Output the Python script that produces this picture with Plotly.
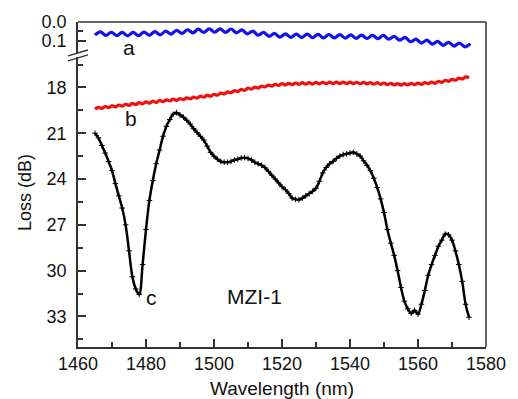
import numpy as np
import plotly.graph_objects as go

# ---------------- data ----------------
# curve a (upper, blue): wavelength grid and loss (dB)
wl_a = np.round(1465 + 1.6 * np.arange(70), 1)
loss_a = [0.069, 0.052, 0.071, 0.054, 0.072, 0.055, 0.073, 0.055, 0.072, 0.053,
          0.070, 0.051, 0.068, 0.048, 0.064, 0.044, 0.060, 0.041, 0.057, 0.038,
          0.055, 0.036, 0.054, 0.036, 0.055, 0.037, 0.057, 0.042, 0.063, 0.048,
          0.070, 0.055, 0.076, 0.060, 0.080, 0.063, 0.081, 0.064, 0.082, 0.064,
          0.083, 0.065, 0.084, 0.066, 0.084, 0.067, 0.085, 0.068, 0.086, 0.069,
          0.087, 0.070, 0.088, 0.071, 0.091, 0.076, 0.096, 0.081, 0.104, 0.090,
          0.111, 0.096, 0.117, 0.102, 0.123, 0.107, 0.127, 0.111, 0.131, 0.114]

# curve b (red)
wl_b = np.arange(1465, 1576)
loss_b = [19.42, 19.30, 19.37, 19.25, 19.32, 19.20, 19.27, 19.15, 19.22, 19.10,
          19.17, 19.05, 19.12, 19.00, 19.07, 18.95, 19.03, 18.90, 18.98, 18.85,
          18.93, 18.81, 18.89, 18.77, 18.85, 18.73, 18.80, 18.68, 18.75, 18.63,
          18.70, 18.57, 18.64, 18.51, 18.58, 18.45, 18.51, 18.37, 18.43, 18.29,
          18.35, 18.21, 18.27, 18.13, 18.19, 18.05, 18.11, 17.98, 18.04, 17.91,
          17.97, 17.85, 17.92, 17.80, 17.87, 17.75, 17.84, 17.73, 17.82, 17.71,
          17.80, 17.69, 17.79, 17.68, 17.78, 17.67, 17.77, 17.66, 17.76, 17.65,
          17.75, 17.65, 17.75, 17.65, 17.75, 17.65, 17.75, 17.66, 17.76, 17.67,
          17.77, 17.68, 17.79, 17.69, 17.80, 17.71, 17.82, 17.73, 17.84, 17.75,
          17.85, 17.75, 17.84, 17.73, 17.82, 17.71, 17.80, 17.68, 17.76, 17.65,
          17.73, 17.60, 17.67, 17.53, 17.60, 17.47, 17.53, 17.39, 17.45, 17.31,
          17.37]

# curve c (black)
wl_c = np.arange(1465, 1576)
loss_c = [21.0, 21.3, 21.8, 22.3, 22.85, 23.45, 24.3, 25.1, 25.9, 27.0,
          28.7, 30.4, 31.2, 31.55, 29.6, 27.3, 25.4, 24.1, 23.0, 22.1,
          21.2, 20.55, 20.1, 19.75, 19.65, 19.8, 19.95, 20.15, 20.4, 20.7,
          20.95, 21.2, 21.45, 21.85, 22.25, 22.5, 22.7, 22.85, 22.9, 22.9,
          22.85, 22.75, 22.7, 22.62, 22.6, 22.65, 22.75, 22.9, 23.0, 23.1,
          23.25, 23.5, 23.75, 24.0, 24.25, 24.5, 24.7, 24.95, 25.25, 25.33,
          25.35, 25.25, 25.1, 24.95, 24.8, 24.6, 24.15, 23.6, 23.25, 23.0,
          22.85, 22.65, 22.5, 22.4, 22.35, 22.3, 22.25, 22.35, 22.5, 22.8,
          23.1, 23.45, 23.95, 24.55, 25.3, 26.2, 27.3, 28.2, 29.0, 30.0,
          31.1, 32.0, 32.5, 32.8, 32.6, 32.85, 32.2, 31.3, 30.3, 29.6,
          29.0, 28.4, 28.0, 27.6, 27.65, 28.0, 28.7, 29.6, 30.7, 32.2,
          33.05]

x_ticks = [1460, 1480, 1500, 1520, 1540, 1560, 1580]
y_low_ticks = [18, 21, 24, 27, 30, 33]
y_low_minor = [16.5, 19.5, 22.5, 25.5, 28.5, 31.5, 34.5]
y_up_ticks = [0.0, 0.1]
y_up_labels = ["0.0", "0.1"]

# ---------------- figure ----------------
FONT = "Liberation Sans, Arial, sans-serif"
FRAME = "#333333"

fig = go.Figure()
fig.add_trace(go.Scatter(x=wl_a, y=loss_a, mode="lines", yaxis="y2",
                         line=dict(color="#1010f0", width=3.2, shape="spline"),
                         showlegend=False))
fig.add_trace(go.Scatter(x=wl_b, y=loss_b, mode="lines", yaxis="y",
                         line=dict(color="#f01010", width=3.2, shape="spline"),
                         showlegend=False))
fig.add_trace(go.Scatter(x=wl_c, y=loss_c, mode="lines+markers", yaxis="y",
                         line=dict(color="black", width=2.5, shape="spline"),
                         marker=dict(symbol="cross-thin", size=4,
                                     line=dict(color="black", width=1)),
                         showlegend=False))

L, R, T, B = 78, 28, 21, 52
W, H = 518, 399
pw, ph = W - L - R, H - T - B


def px(xp):
    return (xp - L) / pw


def py(yp):
    return (H - B - yp) / ph


up_dom = [py(52), 1]
low_dom = [0, py(56)]

tickfont = dict(family=FONT, size=18, color="#111111")

fig.update_layout(
    width=W, height=H,
    margin=dict(l=L, r=R, t=T, b=B),
    paper_bgcolor="white", plot_bgcolor="white",
    font=dict(family=FONT, color="#111111"),
    xaxis=dict(range=[1460, 1580], tickvals=x_ticks, ticks="inside",
               ticklen=8, tickwidth=1.5, tickcolor=FRAME,
               minor=dict(dtick=10, tick0=1460, ticks="inside", ticklen=5,
                          tickwidth=1.5, tickcolor=FRAME),
               showline=True, linecolor=FRAME, linewidth=1.5,
               showgrid=False, zeroline=False, tickfont=tickfont,
               anchor="y"),
    yaxis=dict(domain=low_dom, range=[35, 16], tickvals=y_low_ticks,
               ticks="inside", ticklen=8, tickwidth=1.5, tickcolor=FRAME,
               minor=dict(tickvals=y_low_minor, ticks="inside", ticklen=5,
                          tickwidth=1.5, tickcolor=FRAME),
               showline=True, linecolor=FRAME, linewidth=1.5,
               showgrid=False, zeroline=False, tickfont=tickfont,
               ticklabelstandoff=6),
    yaxis2=dict(domain=up_dom, range=[0.163, 0], tickvals=y_up_ticks,
                ticktext=y_up_labels, ticks="inside", ticklen=8, tickwidth=1.5,
                tickcolor=FRAME,
                minor=dict(tickvals=[0.05], ticks="inside", ticklen=5,
                           tickwidth=1.5, tickcolor=FRAME),
                showline=True, linecolor=FRAME, linewidth=1.5,
                showgrid=False, zeroline=False, tickfont=tickfont,
                ticklabelstandoff=6, anchor="x"),
)

shapes = [
    # top and right frame
    dict(type="line", xref="paper", yref="paper", x0=0, x1=1, y0=1, y1=1,
         line=dict(color=FRAME, width=1.5)),
    dict(type="line", xref="paper", yref="paper", x0=1, x1=1, y0=0, y1=1,
         line=dict(color=FRAME, width=1.5)),
    # break marks
    dict(type="line", xref="paper", yref="paper", x0=px(68), x1=px(88),
         y0=py(55), y1=py(49), line=dict(color=FRAME, width=1.5)),
    dict(type="line", xref="paper", yref="paper", x0=px(68), x1=px(88),
         y0=py(60), y1=py(54), line=dict(color=FRAME, width=1.5)),
]
fig.update_layout(shapes=shapes)


def label(text, xp, yp, size, angle=0):
    return dict(text=text, x=px(xp), y=py(yp), xref="paper", yref="paper",
                xanchor="center", yanchor="middle", showarrow=False,
                textangle=angle,
                font=dict(family=FONT, size=size, color="#111111"))


annotations = [
    label("a", 130, 47, 21),
    label("b", 132, 118, 21),
    label("c", 152, 297, 21),
    label("MZI-1", 256, 296, 21),
    label("Wavelength (nm)", 284, 389, 19),
    label("Loss (dB)", 25, 192, 18, angle=-90),
]
fig.update_layout(annotations=annotations)

fig.write_html("out.html")
